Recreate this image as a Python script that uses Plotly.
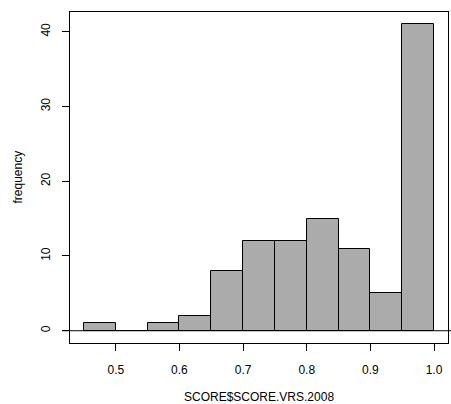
import plotly.graph_objects as go

# Histogram of SCORE.VRS.2008: bin edges and counts
bin_edges = [0.45, 0.50, 0.55, 0.60, 0.65, 0.70, 0.75, 0.80, 0.85, 0.90, 0.95, 1.00]
counts = [1, 0, 1, 2, 8, 12, 12, 15, 11, 5, 41]

x_ticks = [0.5, 0.6, 0.7, 0.8, 0.9, 1.0]
x_tick_labels = ["0.5", "0.6", "0.7", "0.8", "0.9", "1.0"]
y_ticks = [0, 10, 20, 30, 40]

centers = [(a + b) / 2 for a, b in zip(bin_edges[:-1], bin_edges[1:])]
widths = [b - a for a, b in zip(bin_edges[:-1], bin_edges[1:])]

FONT = "Liberation Sans, Arial, sans-serif"
W, H = 451, 404
L, R, T, B = 70, 3, 12, 61
pw, ph = W - L - R, H - T - B

fig = go.Figure(
    go.Bar(
        x=centers,
        y=counts,
        width=widths,
        marker=dict(color="#ABABAB", line=dict(color="black", width=1)),
        hoverinfo="x+y",
    )
)

xr = (bin_edges[0], bin_edges[-1])
xpad = (xr[1] - xr[0]) * 0.04
ymax = max(counts)
ypad = ymax * 0.04

fig.update_layout(
    width=W,
    height=H,
    margin=dict(l=L, r=R, t=T, b=B, pad=0),
    paper_bgcolor="white",
    plot_bgcolor="white",
    showlegend=False,
    bargap=0,
    font=dict(family=FONT, size=12, color="black"),
    xaxis=dict(
        range=[xr[0] - xpad, xr[1] + xpad],
        tickvals=x_ticks,
        ticktext=x_tick_labels,
        ticks="outside",
        ticklen=7,
        tickcolor="black",
        tickwidth=1,
        ticklabelstandoff=9,
        showline=True,
        linecolor="black",
        linewidth=1,
        mirror=True,
        showgrid=False,
        zeroline=False,
        tickfont=dict(family=FONT, size=12, color="black"),
    ),
    yaxis=dict(
        range=[-ypad, ymax + ypad],
        tickvals=y_ticks,
        ticks="outside",
        ticklen=7,
        tickcolor="black",
        tickwidth=1,
        tickangle=-90,
        ticklabelstandoff=7,
        showline=True,
        linecolor="black",
        linewidth=1,
        mirror=True,
        showgrid=False,
        zeroline=False,
        tickfont=dict(family=FONT, size=12, color="black"),
    ),
    shapes=[
        # horizontal reference line at zero across the figure
        dict(
            type="line",
            xref="paper",
            yref="y",
            x0=(62 - L) / pw,
            x1=(W - L) / pw,
            y0=0,
            y1=0,
            line=dict(color="black", width=1),
        )
    ],
    annotations=[
        dict(
            text="SCORE$SCORE.VRS.2008",
            xref="paper",
            yref="paper",
            x=0.5,
            y=-54 / ph,
            xanchor="center",
            yanchor="middle",
            showarrow=False,
            font=dict(family=FONT, size=12, color="black"),
        ),
        dict(
            text="frequency",
            xref="paper",
            yref="paper",
            x=-53 / pw,
            y=0.5,
            xanchor="center",
            yanchor="middle",
            textangle=-90,
            showarrow=False,
            font=dict(family=FONT, size=12, color="black"),
        ),
    ],
)

fig.write_html("out.html")
